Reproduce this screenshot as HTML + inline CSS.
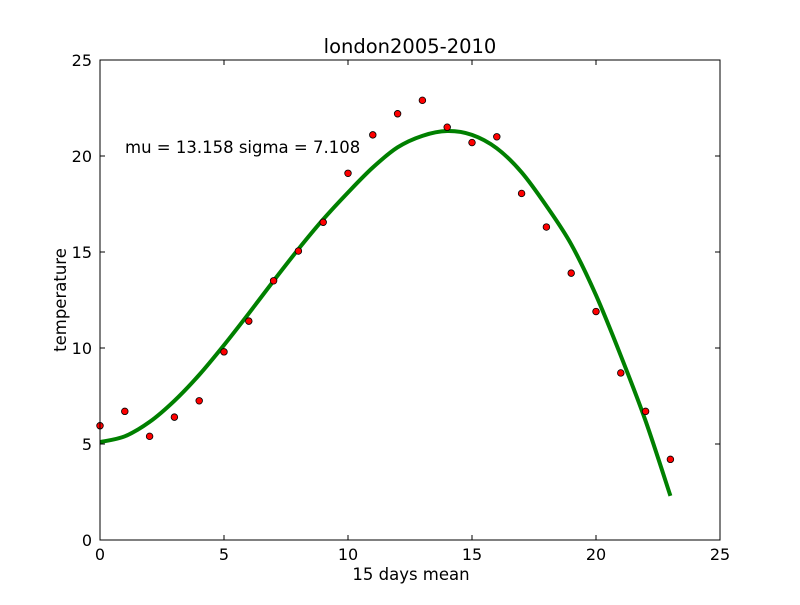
<!DOCTYPE html>
<html><head><meta charset="utf-8"><style>
body{margin:0;background:#fff}
svg text{font-family:"DejaVu Sans","Liberation Sans",sans-serif;fill:#000}
</style></head><body>
<svg id="chart" width="800" height="600" xmlns="http://www.w3.org/2000/svg">
<rect width="800" height="600" fill="#fff"/>
<text x="410" y="53" font-size="19.5" text-anchor="middle">london2005-2010</text>
<text x="411" y="580" font-size="16.5" text-anchor="middle">15 days mean</text>
<text transform="translate(66,300) rotate(-90)" font-size="16.5" text-anchor="middle">temperature</text>
<text x="125" y="153" font-size="16.5">mu = 13.158 sigma = 7.108</text>
</svg>
<script>
const xTicks=[0,5,10,15,20,25];
const yTicks=[0,5,10,15,20,25];
const pointX=[0,1,2,3,4,5,6,7,8,9,10,11,12,13,14,15,16,17,18,19,20,21,22,23];
const pointY=[5.95,6.7,5.4,6.4,7.25,9.8,11.4,13.5,15.05,16.55,19.1,21.1,22.2,22.9,21.5,20.7,21.0,18.05,16.3,13.9,11.9,8.7,6.7,4.2];
const fitX=[0,1,2,3,4,5,6,7,8,9,10,11,12,13,14,15,16,17,18,19,20,21,22,23];
const fitY=[5.1,5.4,6.15,7.25,8.6,10.15,11.8,13.5,15.15,16.7,18.1,19.4,20.45,21.05,21.3,21.1,20.4,19.15,17.4,15.4,12.75,9.6,6.2,2.3];
const L=100,R=720,T=60,B=540;
const sx=v=>L+(v-0)/25*(R-L), sy=v=>B-(v-0)/25*(B-T);
const svg=document.getElementById('chart'),NS='http://www.w3.org/2000/svg';
function mk(t,a){const e=document.createElementNS(NS,t);for(const k in a)e.setAttribute(k,a[k]);svg.appendChild(e);return e;}
let pts=fitX.map((x,i)=>[sx(x),sy(fitY[i])]);
let d='M'+pts[0][0]+','+pts[0][1];
for(let i=0;i<pts.length-1;i++){const p0=pts[Math.max(0,i-1)],p1=pts[i],p2=pts[i+1],p3=pts[Math.min(pts.length-1,i+2)];
d+=` C${p1[0]+(p2[0]-p0[0])/6},${p1[1]+(p2[1]-p0[1])/6} ${p2[0]-(p3[0]-p1[0])/6},${p2[1]-(p3[1]-p1[1])/6} ${p2[0]},${p2[1]}`;}
const c=mk('path',{d:d,fill:'none',stroke:'#008000','stroke-width':4});


pointX.forEach((x,i)=>{const e=mk('circle',{cx:sx(x),cy:sy(pointY[i]),r:3.3,fill:'#ff0000',stroke:'#000','stroke-width':0.8});

});
const f=mk('rect',{x:L,y:T,width:R-L,height:B-T,fill:'none',stroke:'#000','stroke-width':1});


xTicks.forEach(v=>{const x=sx(v);
mk('line',{x1:x,x2:x,y1:B,y2:B-5,stroke:'#000'});mk('line',{x1:x,x2:x,y1:T,y2:T+5,stroke:'#000'});
const t=mk('text',{x:x,y:B+20,'font-size':16,'text-anchor':'middle'});t.textContent=v;

});
yTicks.forEach(v=>{const y=sy(v);
mk('line',{x1:L,x2:L+5,y1:y,y2:y,stroke:'#000'});mk('line',{x1:R,x2:R-5,y1:y,y2:y,stroke:'#000'});
const t=mk('text',{x:L-8,y:y+6,'font-size':16,'text-anchor':'end'});t.textContent=v;

});
</script>
</body></html>
